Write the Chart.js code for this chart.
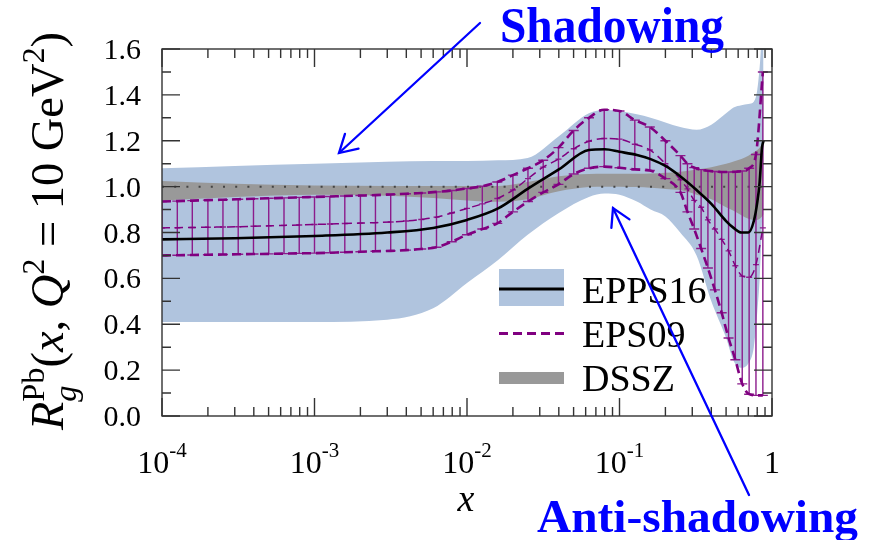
<!DOCTYPE html>
<html><head><meta charset="utf-8">
<script src="https://cdn.jsdelivr.net/npm/chart.js@4.4.0/dist/chart.umd.min.js"></script>
<style>
html,body{margin:0;padding:0;background:#fff;}
#wrap{width:870px;height:540px;position:relative;}
</style>
</head><body>
<div id="wrap"><canvas id="c" width="870" height="540"></canvas></div>
<script>
// ---------- data ----------
const gridX = [0.0001, 0.0003, 0.001, 0.003, 0.006, 0.01, 0.016, 0.025, 0.04, 0.063, 0.08, 0.1, 0.13, 0.16, 0.2, 0.25, 0.32, 0.4, 0.5, 0.56, 0.63, 0.7, 0.76, 0.8, 0.83, 0.86, 0.88];
const epps16Central = [0.77, 0.775, 0.785, 0.80, 0.82, 0.855, 0.905, 0.99, 1.075, 1.16, 1.163, 1.152, 1.138, 1.12, 1.09, 1.045, 0.985, 0.925, 0.85, 0.82, 0.80, 0.80, 0.85, 0.93, 1.02, 1.17, 1.20];
const epps16Upper = [1.08, 1.09, 1.10, 1.108, 1.112, 1.112, 1.115, 1.125, 1.22, 1.32, 1.334, 1.33, 1.315, 1.30, 1.28, 1.26, 1.248, 1.27, 1.32, 1.345, 1.355, 1.36, 1.37, 1.42, 1.52, 1.65, 1.65];
const epps16Lower = [0.41, 0.41, 0.41, 0.42, 0.47, 0.58, 0.68, 0.79, 0.885, 0.955, 0.97, 0.965, 0.935, 0.90, 0.87, 0.80, 0.70, 0.50, 0.34, 0.24, 0.21, 0.23, 0.30, 0.45, 0.60, 0.85, 1.0];
const dsszUpper = [1.025, 1.012, 1.005, 1.003, 1.003, 1.003, 1.003, 1.02, 1.045, 1.055, 1.056, 1.056, 1.056, 1.057, 1.06, 1.065, 1.075, 1.085, 1.10, 1.11, 1.12, 1.135, 1.15, 1.16, 1.17, 1.18, 1.18];
const dsszLower = [0.94, 0.955, 0.965, 0.96, 0.95, 0.94, 0.934, 0.945, 0.98, 0.998, 1.0, 1.0, 0.998, 0.995, 0.99, 0.985, 0.965, 0.945, 0.91, 0.895, 0.875, 0.86, 0.855, 0.855, 0.86, 0.87, 0.88];

const eps09X = [1.00e-4, 1.26e-4, 1.58e-4, 2.00e-4, 2.51e-4, 3.16e-4, 3.98e-4, 5.01e-4, 6.31e-4, 7.94e-4,
  1.00e-3, 1.26e-3, 1.58e-3, 2.00e-3, 2.51e-3, 3.16e-3, 3.98e-3, 5.01e-3, 6.31e-3, 7.94e-3,
  0.0100, 0.0126, 0.0158, 0.0200, 0.0251, 0.0316, 0.0398, 0.0501, 0.0631, 0.0794,
  0.100, 0.126, 0.158, 0.200, 0.251, 0.279, 0.309, 0.343, 0.380, 0.422,
  0.468, 0.519, 0.575, 0.638, 0.708, 0.785, 0.871];
const eps09Upper = [0.935, 0.937, 0.939, 0.941, 0.943, 0.945, 0.947, 0.949, 0.951, 0.953,
  0.955, 0.957, 0.959, 0.961, 0.963, 0.966, 0.969, 0.972, 0.977, 0.983,
  0.992, 1.002, 1.02, 1.05, 1.08, 1.115, 1.17, 1.245, 1.30, 1.335,
  1.33, 1.29, 1.26, 1.20, 1.135, 1.10, 1.083, 1.074, 1.069, 1.066,
  1.064, 1.064, 1.065, 1.068, 1.08, 1.14, 1.50];
const eps09Central = [0.82, 0.821, 0.822, 0.823, 0.824, 0.825, 0.827, 0.829, 0.831, 0.833,
  0.835, 0.837, 0.839, 0.841, 0.843, 0.846, 0.85, 0.857, 0.867, 0.885,
  0.905, 0.925, 0.948, 0.985, 1.035, 1.085, 1.12, 1.165, 1.198, 1.21,
  1.207, 1.185, 1.16, 1.10, 1.03, 0.99, 0.94, 0.91, 0.855, 0.815,
  0.77, 0.72, 0.655, 0.61, 0.605, 0.66, 0.82];
const eps09Lower = [0.70, 0.701, 0.702, 0.703, 0.704, 0.705, 0.706, 0.707, 0.708, 0.709,
  0.71, 0.712, 0.714, 0.716, 0.718, 0.72, 0.723, 0.728, 0.736, 0.76,
  0.79, 0.815, 0.84, 0.89, 0.935, 0.975, 1.01, 1.055, 1.08, 1.087,
  1.082, 1.075, 1.07, 1.035, 0.975, 0.89, 0.815, 0.73, 0.645, 0.55,
  0.45, 0.34, 0.245, 0.14, 0.095, 0.09, 0.09];

const yTickValues = [0, 0.2, 0.4, 0.6, 0.8, 1.0, 1.2, 1.4, 1.6];
const yTickLabels = ['0.0', '0.2', '0.4', '0.6', '0.8', '1.0', '1.2', '1.4', '1.6'];
const xTickValues = [1e-4, 1e-3, 1e-2, 1e-1, 1];
const xTickBase = ['10', '10', '10', '10', '1'];
const xTickExp = ['-4', '-3', '-2', '-1', ''];
const legendLabels = ['EPPS16', 'EPS09', 'DSSZ'];
const annotations = ['Shadowing', 'Anti-shadowing'];

// ---------- style ----------
const BLUE = '#b0c4de', GRAY = '#999999', PURPLE = '#800080', BARC = '#8c1c8c', AXIS = '#333333';
const SERIF = '"Times New Roman", Times, serif';
const P = (xs, ys) => xs.map((x, i) => ({x: x, y: ys[i]}));
const hidden = 'rgba(0,0,0,0)';

function fitText(ctx, text, x, y, w, font) {
  ctx.save();
  ctx.font = font;
  const m = ctx.measureText(text).width;
  ctx.translate(x, y);
  ctx.scale(w / m, 1);
  ctx.fillText(text, 0, 0);
  ctx.restore();
}
function arrow(ctx, x0, y0, x1, y1) {
  ctx.save();
  ctx.strokeStyle = '#0000ff'; ctx.lineWidth = 2.3; ctx.lineCap = 'round';
  ctx.beginPath(); ctx.moveTo(x0, y0); ctx.lineTo(x1, y1); ctx.stroke();
  const a = Math.atan2(y0 - y1, x0 - x1), L = 20, h = 30 * Math.PI / 180;
  ctx.beginPath();
  ctx.moveTo(x1 + L * Math.cos(a + h), y1 + L * Math.sin(a + h));
  ctx.lineTo(x1, y1);
  ctx.lineTo(x1 + L * Math.cos(a - h), y1 + L * Math.sin(a - h));
  ctx.stroke();
  ctx.restore();
}

const decor = {
  id: 'decor',
  afterDatasetDraw(chart, args) {
    if (args.index !== 4) return;
    const {ctx, chartArea: ca, scales: {x, y}} = chart;
    ctx.save();
    ctx.beginPath(); ctx.rect(ca.left, ca.top, ca.right - ca.left, ca.bottom - ca.top); ctx.clip();
    ctx.strokeStyle = BARC; ctx.lineWidth = 1.4;
    eps09X.forEach((xv, i) => {
      const px = x.getPixelForValue(xv);
      const pu = y.getPixelForValue(eps09Upper[i]);
      const pl = y.getPixelForValue(eps09Lower[i]);
      const pc = y.getPixelForValue(eps09Central[i]);
      ctx.beginPath();
      ctx.moveTo(px, pu); ctx.lineTo(px, pl);
      ctx.moveTo(px - 5, pu); ctx.lineTo(px + 5, pu);
      ctx.moveTo(px - 5, pl); ctx.lineTo(px + 5, pl);
      ctx.moveTo(px - 3, pc); ctx.lineTo(px + 3, pc);
      ctx.stroke();
    });
    ctx.restore();
  },
  afterDraw(chart) {
    const {ctx, chartArea: ca, scales: {x, y}} = chart;
    ctx.save();
    ctx.strokeStyle = AXIS; ctx.lineWidth = 1.4;
    ctx.strokeRect(ca.left, ca.top, ca.right - ca.left, ca.bottom - ca.top);
    ctx.beginPath();
    for (let k = -4; k <= 0; k++) {
      const px = x.getPixelForValue(Math.pow(10, k));
      ctx.moveTo(px, ca.bottom); ctx.lineTo(px, ca.bottom - 18);
      ctx.moveTo(px, ca.top); ctx.lineTo(px, ca.top + 18);
      if (k < 0) for (let m = 2; m <= 9; m++) {
        const qx = x.getPixelForValue(m * Math.pow(10, k));
        ctx.moveTo(qx, ca.bottom); ctx.lineTo(qx, ca.bottom - 9);
        ctx.moveTo(qx, ca.top); ctx.lineTo(qx, ca.top + 9);
      }
    }
    for (let j = 0; j <= 16; j++) {
      const py = y.getPixelForValue(j / 10);
      const len = (j % 2 === 0) ? 18 : 9;
      ctx.moveTo(ca.left, py); ctx.lineTo(ca.left + len, py);
      ctx.moveTo(ca.right, py); ctx.lineTo(ca.right - len, py);
    }
    ctx.stroke();

    ctx.fillStyle = '#000';
    ctx.font = '30px ' + SERIF;
    ctx.textAlign = 'right'; ctx.textBaseline = 'alphabetic';
    yTickValues.forEach((v, i) => {
      ctx.fillText(yTickLabels[i], 141, y.getPixelForValue(v) + 10);
    });
    ctx.textAlign = 'left';
    xTickValues.forEach((v, i) => {
      const px = x.getPixelForValue(v);
      ctx.font = '32px ' + SERIF;
      const wb = ctx.measureText(xTickBase[i]).width;
      ctx.font = '21px ' + SERIF;
      const we = xTickExp[i] ? ctx.measureText(xTickExp[i]).width : 0;
      const x0 = px - (wb + we) / 2;
      ctx.font = '32px ' + SERIF;
      ctx.fillText(xTickBase[i], x0, 473);
      if (xTickExp[i]) { ctx.font = '21px ' + SERIF; ctx.fillText(xTickExp[i], x0 + wb, 457); }
    });
    ctx.font = 'italic 38px ' + SERIF;
    ctx.textAlign = 'center';
    ctx.fillText('x', 466, 511);

    const fs = 46, sfs = 32;
    const segs = [
      {t: 'R', f: 'italic ' + fs + 'px ' + SERIF, dy: 0},
      {stack: [{t: 'g', f: 'italic ' + sfs + 'px ' + SERIF, dy: 0.28 * fs}, {t: 'Pb', f: sfs + 'px ' + SERIF, dy: -0.42 * fs}]},
      {t: '(', f: fs + 'px ' + SERIF, dy: 0},
      {t: 'x', f: 'italic ' + fs + 'px ' + SERIF, dy: 0},
      {t: ', ', f: fs + 'px ' + SERIF, dy: 0},
      {t: 'Q', f: 'italic ' + fs + 'px ' + SERIF, dy: 0},
      {t: '2', f: sfs + 'px ' + SERIF, dy: -0.42 * fs},
      {t: ' = 10 GeV', f: fs + 'px ' + SERIF, dy: 0},
      {t: '2', f: sfs + 'px ' + SERIF, dy: -0.42 * fs},
      {t: ')', f: fs + 'px ' + SERIF, dy: 0}
    ];
    let total = 0;
    segs.forEach(s => {
      if (s.stack) { s.w = Math.max(...s.stack.map(q => { ctx.font = q.f; return ctx.measureText(q.t).width; })); }
      else { ctx.font = s.f; s.w = ctx.measureText(s.t).width; }
      total += s.w;
    });
    ctx.save();
    ctx.translate(63, 430);
    ctx.rotate(-Math.PI / 2);
    ctx.scale(398 / total, 1);
    ctx.textAlign = 'left';
    let cx = 0;
    segs.forEach(s => {
      if (s.stack) s.stack.forEach(q => { ctx.font = q.f; ctx.fillText(q.t, cx, q.dy); });
      else { ctx.font = s.f; ctx.fillText(s.t, cx, s.dy); }
      cx += s.w;
    });
    ctx.restore();

    const lx0 = 499, lx1 = 564;
    ctx.fillStyle = BLUE; ctx.fillRect(lx0, 269, lx1 - lx0, 37);
    ctx.strokeStyle = '#000'; ctx.lineWidth = 3;
    ctx.beginPath(); ctx.moveTo(lx0, 289); ctx.lineTo(lx1, 289); ctx.stroke();
    ctx.strokeStyle = PURPLE; ctx.setLineDash([9, 5]);
    ctx.beginPath(); ctx.moveTo(lx0, 333.5); ctx.lineTo(lx1, 333.5); ctx.stroke();
    ctx.setLineDash([]);
    ctx.fillStyle = GRAY; ctx.fillRect(lx0, 372, lx1 - lx0, 12);
    ctx.fillStyle = '#000'; ctx.font = '38px ' + SERIF; ctx.textAlign = 'left';
    ctx.fillText(legendLabels[0], 582, 303);
    ctx.fillText(legendLabels[1], 582, 347);
    ctx.fillText(legendLabels[2], 582, 391);

    ctx.fillStyle = '#0000ff';
    fitText(ctx, annotations[0], 500, 42, 224, 'bold 51px ' + SERIF);
    fitText(ctx, annotations[1], 537, 532, 321, 'bold 46px ' + SERIF);
    arrow(ctx, 480, 23, 339, 153);
    arrow(ctx, 749, 495, 613, 208);

    // warm the serif font faces (white on the empty white margin, invisible)
    ctx.fillStyle = '#ffffff'; ctx.textAlign = 'left';
    ['"Liberation Serif"', '"Times New Roman"', 'serif', '"DejaVu Serif"', 'Tinos'].forEach((f, i) => {
      ctx.font = '16px ' + f; ctx.fillText('Rg1.6', 800, 120 + i * 17);
    });
    ctx.restore();
  }
};

const base = {pointRadius: 0, cubicInterpolationMode: 'monotone'};
const chart = new Chart(document.getElementById('c'), {
  type: 'line',
  data: {datasets: [
    Object.assign({label: 'EPPS16 upper', data: P(gridX, epps16Upper), fill: '+1', backgroundColor: BLUE, borderColor: hidden, borderWidth: 0, order: 10}, base),
    Object.assign({label: 'EPPS16 lower', data: P(gridX, epps16Lower), fill: false, borderColor: hidden, borderWidth: 0, order: 10}, base),
    Object.assign({label: 'DSSZ upper', data: P(gridX, dsszUpper), fill: '+1', backgroundColor: GRAY, borderColor: hidden, borderWidth: 0, order: 9}, base),
    Object.assign({label: 'DSSZ lower', data: P(gridX, dsszLower), fill: false, borderColor: hidden, borderWidth: 0, order: 9}, base),
    {label: 'unity', data: [{x: 1e-4, y: 1}, {x: 1, y: 1}], borderColor: '#444', borderWidth: 2, borderDash: [2, 10.2], pointRadius: 0, fill: false, order: 8},
    Object.assign({label: 'EPS09 upper', data: P(eps09X, eps09Upper), fill: false, borderColor: PURPLE, borderWidth: 2.6, borderDash: [9, 5], order: 5}, base),
    Object.assign({label: 'EPS09 lower', data: P(eps09X, eps09Lower), fill: false, borderColor: PURPLE, borderWidth: 2.6, borderDash: [9, 5], order: 5}, base),
    Object.assign({label: 'EPS09', data: P(eps09X, eps09Central), fill: false, borderColor: PURPLE, borderWidth: 1.5, borderDash: [8, 5], order: 4}, base),
    Object.assign({label: 'EPPS16', data: P(gridX, epps16Central), fill: false, borderColor: '#000', borderWidth: 2.6, order: 1}, base)
  ]},
  options: {
    responsive: false, animation: false, devicePixelRatio: 1, events: [],
    layout: {padding: {left: 162, right: 98, top: 49, bottom: 124}},
    plugins: {legend: {display: false}, tooltip: {enabled: false}, filler: {propagate: false}},
    scales: {
      x: {type: 'logarithmic', min: 1e-4, max: 1, display: false},
      y: {type: 'linear', min: 0, max: 1.6, display: false}
    }
  },
  plugins: [decor]
});
</script></body></html>
